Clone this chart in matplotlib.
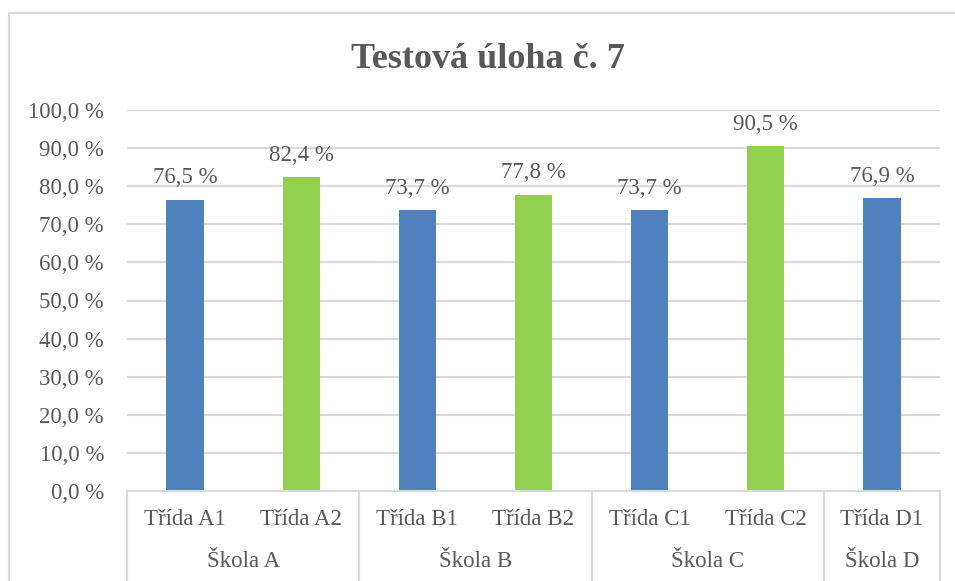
import numpy as np
import matplotlib
matplotlib.use("Agg")
import matplotlib.pyplot as plt
import matplotlib.transforms as mtransforms
from matplotlib.patches import Rectangle

# data
tridy = ["Třída A1", "Třída A2", "Třída B1", "Třída B2", "Třída C1", "Třída C2", "Třída D1"]
skoly = ["Škola A", "Škola B", "Škola C", "Škola D"]
skola_pocet = [2, 2, 2, 1]
hodnoty = [76.5, 82.4, 73.7, 77.8, 73.7, 90.5, 76.9]
barvy = ["#4F81BD", "#92D050", "#4F81BD", "#92D050", "#4F81BD", "#92D050", "#4F81BD"]
y_ticks = np.arange(0, 101, 10)

text_col = "#595959"
grid_col = "#D9D9D9"
plt.rcParams["font.family"] = ["Liberation Serif", "DejaVu Serif"]

W, H = 955, 581
fig = plt.figure(figsize=(W / 100, H / 100), dpi=100)
ax = fig.add_axes([127 / W, (H - 491) / H, (940 - 127) / W, 381 / H])

x = np.arange(len(tridy))
bars = ax.bar(x, hodnoty, width=0.32, color=barvy, zorder=3)

for b, v in zip(bars, hodnoty):
    ax.annotate(f"{v:.1f} %".replace(".", ","),
                (b.get_x() + b.get_width() / 2, v),
                xytext=(0, 8), textcoords="offset points",
                ha="center", va="bottom", fontsize=16.5, color=text_col)

ax.set_xlim(-0.5, len(tridy) - 0.5)
ax.set_ylim(0, 100)
ax.set_yticks(y_ticks)
ax.set_yticklabels([f"{t:.1f} %".replace(".", ",") for t in y_ticks])
ax.tick_params(axis="y", length=0, pad=16.5, labelsize=16.5, labelcolor=text_col)
ax.set_xticks([])
ax.grid(axis="y", color=grid_col, linewidth=1.5, zorder=0)
for s in ["top", "right", "left"]:
    ax.spines[s].set_visible(False)
ax.spines["bottom"].set_color(grid_col)
ax.spines["bottom"].set_linewidth(1.5)
ax.spines["bottom"].set_zorder(4)

# two-level category axis
trans = mtransforms.blended_transform_factory(ax.transData, ax.transAxes)
for i, t in enumerate(tridy):
    ax.text(i, -0.0735, t, transform=trans, ha="center", va="center",
            fontsize=16.5, color=text_col)

hranice = np.concatenate([[0], np.cumsum(skola_pocet)]) - 0.5
for i, s in enumerate(skoly):
    stred = (hranice[i] + hranice[i + 1]) / 2
    ax.text(stred, -0.184, s, transform=trans, ha="center", va="center",
            fontsize=16.5, color=text_col)
for h in hranice:
    ax.plot([h, h], [0, -0.3], transform=trans, color=grid_col,
            linewidth=1.5, clip_on=False)

# chart border
fig.patches.append(Rectangle((9 / W, -0.1), 1.0, (H - 13) / H + 0.1,
                             transform=fig.transFigure, fill=False,
                             edgecolor=grid_col, linewidth=1.5))

fig.text(488 / W, 1 - 68 / H, "Testová úloha č. 7", ha="center", va="baseline",
         fontsize=26, fontweight="bold", color=text_col)

fig.savefig("out.png", dpi=100)
